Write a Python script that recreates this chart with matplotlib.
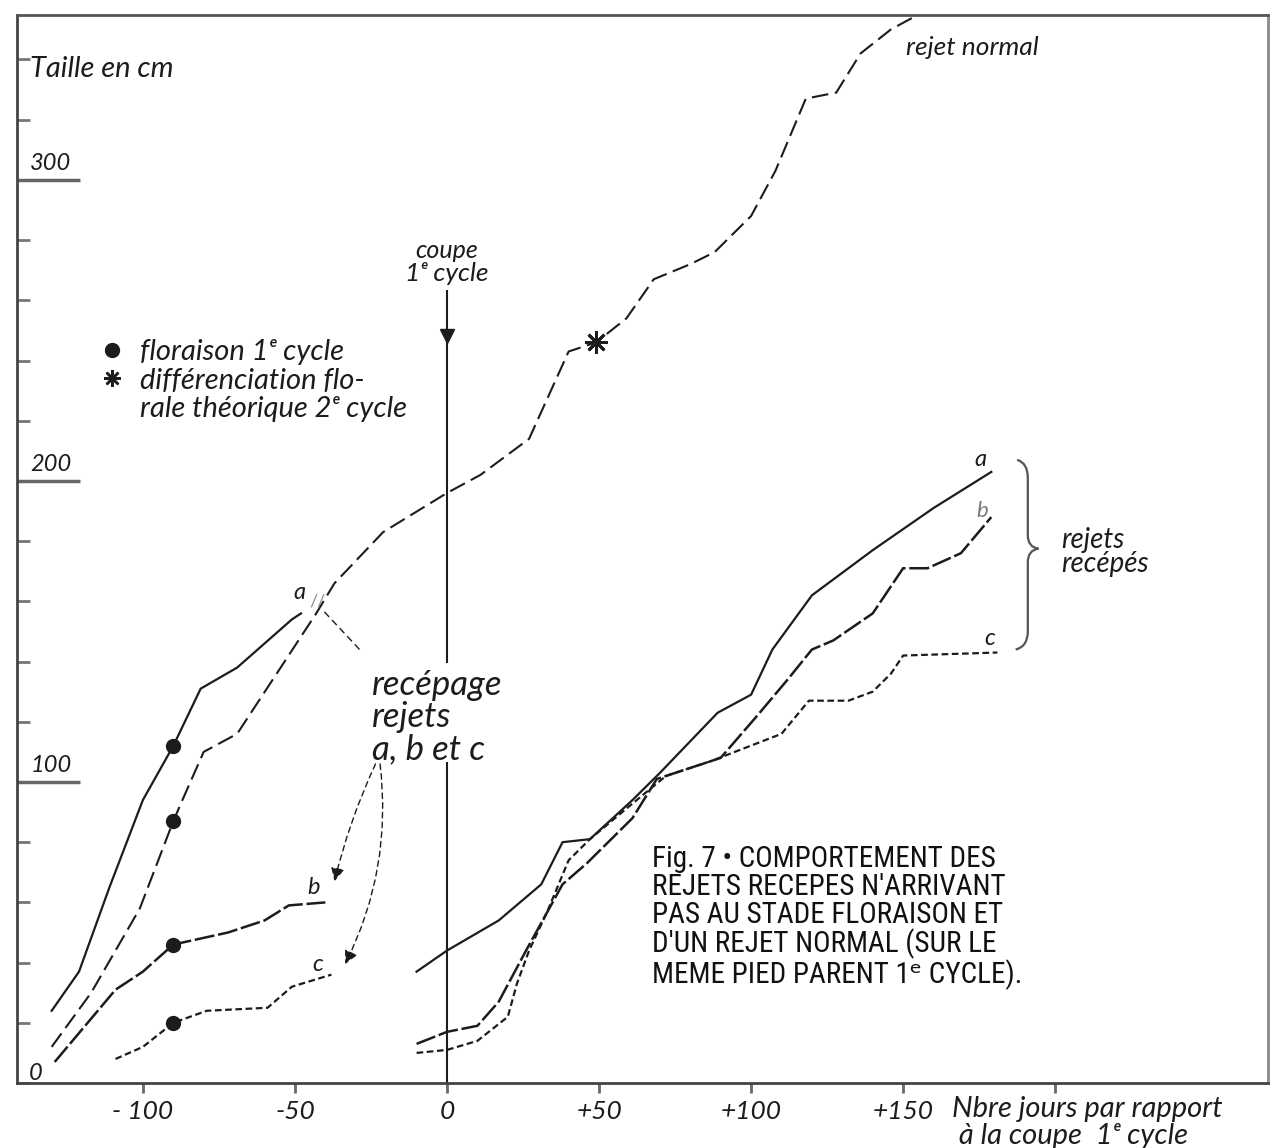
import matplotlib
matplotlib.use("Agg")
import matplotlib.pyplot as plt
from matplotlib import font_manager
from matplotlib.lines import Line2D
from matplotlib.path import Path
from matplotlib.patches import PathPatch
from matplotlib.ticker import MultipleLocator

# --- Données (jours par rapport à la coupe, taille en cm) ---
jours_normal = [-130, -117, -101, -90, -87, -80, -69, -43, -37, -21, 0, 11, 27, 40,
                49, 59, 68, 80, 88, 100, 108, 118, 128, 136, 146, 157]
taille_normal = [12, 30, 58, 87, 94, 110, 116, 156, 166, 183, 196, 202, 214, 243,
                 246, 254, 267, 272, 276, 288, 303, 327, 329, 342, 350, 356]

# rejets avant recépage
jours_a_avant = [-130, -121, -111, -100, -90, -81, -69, -51, -48]
taille_a_avant = [24, 37, 65, 94, 112, 131, 138, 154, 156]
jours_b_avant = [-129, -109, -100, -90, -72, -60, -52, -40]
taille_b_avant = [7, 31, 37, 46, 50, 54, 59, 60]
jours_c_avant = [-109, -100, -90, -79, -59, -51, -38]
taille_c_avant = [8, 12, 20, 24, 25, 32, 36]

# rejets après recépage
jours_a_apres = [-10, 0, 17, 31, 38, 47, 61, 70, 89, 100, 107, 120, 140, 160, 179]
taille_a_apres = [37, 44, 54, 66, 80, 81, 94, 103, 123, 129, 144, 162, 177, 191, 203]
jours_b_apres = [-10, 0, 10, 17, 26, 32, 38, 46, 61, 69, 90, 102, 112, 120, 127,
                 140, 150, 158, 169, 179]
taille_b_apres = [13, 17, 19, 27, 44, 55, 66, 73, 88, 101, 108, 122, 134, 144, 147,
                  156, 171, 171, 176, 188]
jours_c_apres = [-10, 0, 10, 20, 23, 27, 33, 40, 47, 60, 72, 87, 110, 119, 132,
                 140, 146, 150, 181]
taille_c_apres = [10, 11, 14, 22, 33, 44, 57, 74, 81, 92, 102, 107, 116, 127, 127,
                  130, 136, 142, 143]

# floraison 1er cycle (points noirs) et différenciation florale (étoile)
jours_floraison = [-90, -90, -90, -90]
taille_floraison = [112, 87, 46, 20]
jour_diff, taille_diff = 49, 246

xticks = [-100, -50, 0, 50, 100, 150, 200]
xtick_labels = ["- 100", "-50", "0", "+50", "+100", "+150", ""]
ymajor = [100, 200, 300]

INK = "#1c1c1c"
HAND = ["Lato", "DejaVu Sans"]


def hand(size, color=INK):
    return dict(family=HAND, style="italic", size=size, color=color)


def title_font():
    names = {f.name for f in font_manager.fontManager.ttflist}
    for fam, size in (("Liberation Sans Narrow", 21), ("Roboto Condensed", 21)):
        if fam in names:
            return [fam, "DejaVu Sans"], size
    return ["Liberation Sans", "DejaVu Sans"], 17


fig = plt.figure(figsize=(12.77, 11.48), dpi=100)
ax = fig.add_axes([0.0133, 0.0566, 0.9797, 0.9304])
ax.set_xlim(-141.4, 270)
ax.set_ylim(0, 354.8)

for side, col in (("left", "#444"), ("bottom", "#444"), ("top", "#555"), ("right", "#8a8a8a")):
    ax.spines[side].set_color(col)
    ax.spines[side].set_linewidth(2)

# --- courbes ---
sty_normal = dict(color=INK, lw=1.5, ls=(0, (8, 3.2)))
sty_a = dict(color=INK, lw=1.6, ls="-")
sty_b = dict(color=INK, lw=1.8, ls=(0, (8, 1.5)))
sty_c = dict(color=INK, lw=1.6, ls=(0, (3, 1.6)))

ax.plot(jours_normal, taille_normal, **sty_normal)
ax.plot(jours_a_avant, taille_a_avant, **sty_a)
ax.plot(jours_b_avant, taille_b_avant, **sty_b)
ax.plot(jours_c_avant, taille_c_avant, **sty_c)
ax.plot(jours_a_apres, taille_a_apres, **sty_a)
ax.plot(jours_b_apres, taille_b_apres, **sty_b)
ax.plot(jours_c_apres, taille_c_apres, **sty_c)

ax.plot(jours_floraison, taille_floraison, "o", color=INK, ms=10, ls="none", zorder=5)
ax.plot([jour_diff], [taille_diff], marker=(8, 2, 0), color=INK, ms=16, mew=2, zorder=5)

# --- axe de la coupe ---
ax.vlines(0, 106.6, 0, color=INK, lw=1.5)
ax.vlines(0, 263.4, 139.5, color=INK, lw=1.5)
ax.plot([0], [248], marker="v", color=INK, ms=10, zorder=5)
ax.text(0, 276.5, "coupe", ha="center", va="center", **hand(18))
ax.text(0, 269, "1ᵉ cycle", ha="center", va="center", **hand(19))

# --- axes ---
ax.set_xticks(xticks)
ax.set_xticklabels(xtick_labels, **hand(19))
ax.tick_params(axis="x", direction="out", length=7, width=2, color="#666", pad=5)

ax.set_yticks(ymajor)
ax.set_yticklabels([])
ax.yaxis.set_minor_locator(MultipleLocator(20))
ax.tick_params(axis="y", which="major", direction="in", length=45, width=2.5, color="#666")
ax.tick_params(axis="y", which="minor", direction="in", length=9, width=2, color="#777")
for v in ymajor:
    ax.text(-137, v + 2, str(v), ha="left", va="bottom", **hand(17))
ax.text(-137.5, 3, "0", ha="left", va="center", **hand(17))

ax.text(-137, 337, "Taille en cm", ha="left", va="center", **hand(21))
ax.text(166, -4.3, "Nbre jours par rapport\n à la coupe  1ᵉ cycle", ha="left", va="top",
        linespacing=1.04, clip_on=False, **hand(21))

# --- légende ---
handles = [
    Line2D([], [], marker="o", color=INK, ls="none", ms=10),
    Line2D([], [], marker=(8, 2, 0), color=INK, ls="none", ms=12, mew=1.8),
    Line2D([], [], ls="none"),
]
leg = ax.legend(handles, ["floraison 1ᵉ cycle", "différenciation flo-", "rale théorique 2ᵉ cycle"],
                loc="upper left", bbox_to_anchor=(0.046, 0.721), frameon=False,
                handlelength=0.8, handletextpad=0.55, labelspacing=0.08,
                prop=dict(family=HAND, style="italic", size=21))
for t in leg.get_texts():
    t.set_color(INK)

# --- recépage ---
ax.text(-48.5, 163, "a", ha="center", va="center", **hand(17))
ax.text(-42.5, 160, "//", ha="center", va="center", color="#888", family=HAND, size=13)
ax.plot([-40.3, -28], [156.5, 143.2], color=INK, lw=1.0, ls=(0, (5, 3)))
ax.text(-24.7, 137.5, "recépage\nrejets\na, b et c", ha="left", va="top", linespacing=1.0,
        **hand(25))
ax.text(-44, 65, "b", ha="center", va="center", **hand(17))
ax.text(-42.5, 39.5, "c", ha="center", va="center", **hand(17))

arrow = dict(arrowstyle="-|>", lw=1.0, color=INK, ls=(0, (4, 3)),
             mutation_scale=20, shrinkA=0, shrinkB=0)
ax.annotate("", xy=(-37, 67), xytext=(-23.5, 106),
            arrowprops=dict(arrow, connectionstyle="arc3,rad=0.05"))
ax.annotate("", xy=(-33.5, 39.5), xytext=(-22, 106),
            arrowprops=dict(arrow, connectionstyle="arc3,rad=-0.15"))

# --- étiquettes à droite ---
ax.text(175.3, 207, "a", ha="center", va="center", **hand(17))
ax.text(176, 190, "b", ha="center", va="center", **hand(16, "#777"))
ax.text(178.6, 147.5, "c", ha="center", va="center", **hand(17))

brace = Path(
    [(187.5, 207), (191, 206), (191, 201), (191, 182), (191, 178), (194.5, 177.5),
     (191, 177), (191, 173), (191, 150), (191, 145), (187, 144)],
    [Path.MOVETO, Path.CURVE3, Path.CURVE3, Path.LINETO, Path.CURVE3, Path.CURVE3,
     Path.CURVE3, Path.CURVE3, Path.LINETO, Path.CURVE3, Path.CURVE3],
)
ax.add_patch(PathPatch(brace, fill=False, lw=1.6, color="#555"))
ax.text(202, 176.5, "rejets\nrecépés", ha="left", va="center", linespacing=0.92, **hand(20))

ax.text(151, 344, "rejet normal", ha="left", va="center", **hand(19))

# --- titre ---
tfam, tsize = title_font()
ax.text(67.4, 79, "Fig. 7 • COMPORTEMENT DES\nREJETS RECEPES N'ARRIVANT\n"
        "PAS AU STADE FLORAISON ET\nD'UN REJET NORMAL (SUR LE\n"
        "MEME PIED PARENT 1ᵉ CYCLE).",
        ha="left", va="top", family=tfam, size=tsize, color="#111", linespacing=0.99)

fig.savefig("out.png", dpi=100)
